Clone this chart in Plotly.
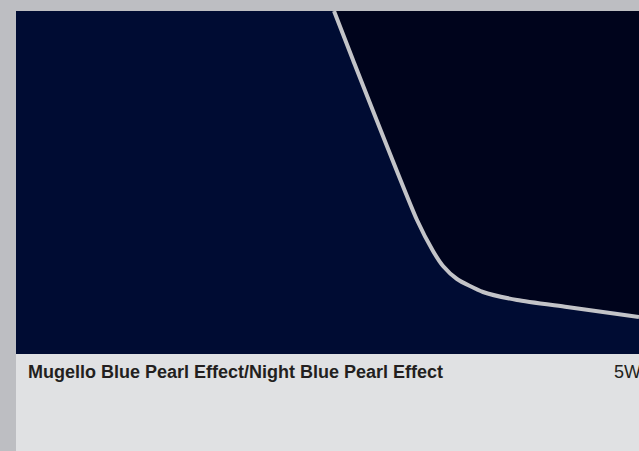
import plotly.graph_objects as go

# Boundary curve between the two paint colours (pixel-space data coordinates)
curve_x = [334, 353, 417, 433, 443, 457, 483, 517, 567, 639]
curve_y = [11, 60, 220, 251, 266, 279, 292, 300, 307, 317]

colour_names = "Mugello Blue Pearl Effect/Night Blue Pearl Effect"
code_label = "5W"

W, H = 639, 451
fig = go.Figure()

# right (Night Blue) region
fig.add_trace(go.Scatter(
    x=curve_x + [W, W], y=curve_y + [354, 11],
    fill="toself", fillcolor="#00041c", line=dict(width=0, shape="spline", smoothing=0.6),
    mode="lines", hoverinfo="skip", showlegend=False))

# dividing line
fig.add_trace(go.Scatter(
    x=curve_x, y=curve_y, mode="lines",
    line=dict(color="#c3c4c8", width=4, shape="spline", smoothing=0.6),
    hoverinfo="skip", showlegend=False))

fig.update_layout(
    width=W, height=H, margin=dict(l=0, r=0, t=0, b=0),
    paper_bgcolor="#bdbec2", plot_bgcolor="rgba(0,0,0,0)",
    xaxis=dict(range=[0, W], visible=False, fixedrange=True),
    yaxis=dict(range=[H, 0], visible=False, fixedrange=True),
    shapes=[
        dict(type="rect", xref="x", yref="y", x0=16, x1=W, y0=354, y1=H,
             fillcolor="#e0e1e3", line=dict(width=0), layer="below"),
        dict(type="rect", xref="x", yref="y", x0=16, x1=W, y0=11, y1=354,
             fillcolor="#000c33", line=dict(width=0), layer="below"),
    ],
    annotations=[
        dict(x=26, y=372, xref="x", yref="y", xanchor="left", yanchor="middle",
             text="<b>" + colour_names + "</b>", showarrow=False,
             font=dict(family="Liberation Sans, Arial", size=18, color="#231f20")),
        dict(x=612, y=372, xref="x", yref="y", xanchor="left", yanchor="middle",
             text=code_label, showarrow=False,
             font=dict(family="Liberation Sans, Arial", size=18, color="#231f20")),
    ],
)
fig.write_html("out.html", config={"displayModeBar": False},
               post_script="document.body.style.margin='0';document.body.style.overflow='hidden';")
